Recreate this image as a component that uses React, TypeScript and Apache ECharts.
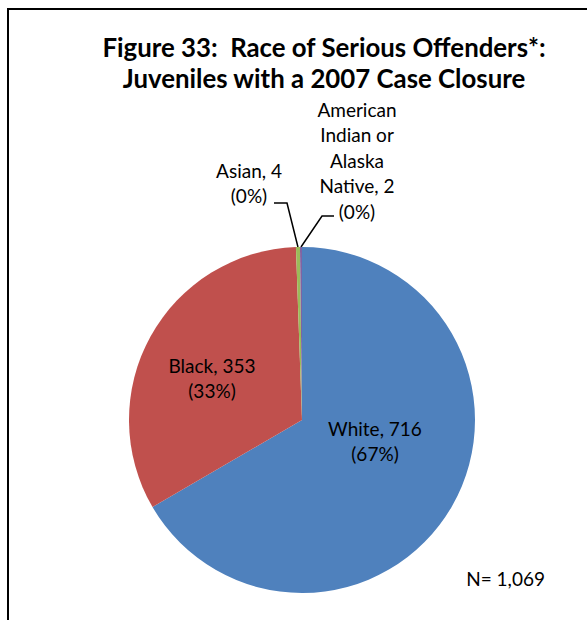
import React, { useEffect, useRef } from "react";
import * as echarts from "echarts";

const categories = ["White", "Black", "Asian", "American Indian or Alaska Native"];
const labelNames = ["White", "Black", "Asian", "American\nIndian or\nAlaska\nNative"];
const values = [716, 353, 4, 2];
const colors = ["#4F81BD", "#C0504D", "#9BBB59", "#8064A2"];
const titleLines = ["Figure 33:  Race of Serious Offenders*:", "Juveniles with a 2007 Case Closure"];
const totalNote = "N= 1,069";

const FONT = "Lato";
const CX = 302;
const CY = 420;
const R = 173;

// label centers as offsets from pie center
const labelOffsets: [number, number][] = [
  [73, 21],
  [-90, -42],
  [-53, -237],
  [55, -260],
];

export default function App() {
  const ref = useRef<HTMLDivElement>(null);
  useEffect(() => {
    if (!ref.current) return;
    const chart = echarts.init(ref.current, undefined, { renderer: "svg" });
    const data = categories.map((c, i) => {
      const small = i >= 2;
      return {
        name: c,
        value: values[i],
        itemStyle: { color: colors[i] },
        label: {
          show: true,
          position: small ? "outside" : "inside",
          formatter: (p: any) => `${labelNames[i]}, ${p.value}\n(${Math.round(p.percent)}%)`,
        },
        labelLine: { show: small, length: 20, length2: 10, lineStyle: { color: "#000", width: 1.5 } },
      };
    });
    chart.setOption({
      animation: false,
      backgroundColor: "#fff",
      graphic: [
        {
          type: "rect",
          shape: { x: 8, y: 9, width: 650, height: 700 },
          style: { fill: "none", stroke: "#000", lineWidth: 2 },
          silent: true,
        },
        {
          type: "text",
          style: {
            text: titleLines.join("\n"),
            x: 324,
            y: 62,
            align: "center",
            verticalAlign: "middle",
            fontFamily: FONT,
            fontWeight: "bold",
            fontSize: 25.8,
            lineHeight: 31,
            fill: "#000",
          },
        },
        {
          type: "text",
          style: {
            text: totalNote,
            x: 545,
            y: 578,
            align: "right",
            verticalAlign: "middle",
            fontFamily: FONT,
            fontSize: 19,
            fill: "#000",
          },
        },
      ],
      series: [
        {
          type: "pie",
          center: [CX, CY],
          radius: R,
          startAngle: 90,
          clockwise: true,
          avoidLabelOverlap: false,
          label: {
            fontFamily: FONT,
            fontSize: 19,
            lineHeight: 25.5,
            color: "#000",
            align: "center",
          },
          labelLayout: (p: any) => {
            const i = p.dataIndex;
            const [dx, dy] = labelOffsets[i];
            const out: any = { x: CX + dx, y: CY + dy, align: "center", verticalAlign: "middle" };
            if (i >= 2 && p.labelLinePoints) {
              const s = p.labelLinePoints[0];
              if (i === 2) {
                out.labelLinePoints = [s, [CX - 15, CY - 217], [CX - 28, CY - 217]];
              } else {
                out.labelLinePoints = [s, [CX + 20, CY - 204], [CX + 32, CY - 204]];
              }
            }
            return out;
          },
          data,
        },
      ],
    });
    return () => chart.dispose();
  }, []);
  return (
    <div
      ref={ref}
      style={{ width: 587, height: 620, position: "absolute", left: 0, top: 0 }}
    />
  );
}
